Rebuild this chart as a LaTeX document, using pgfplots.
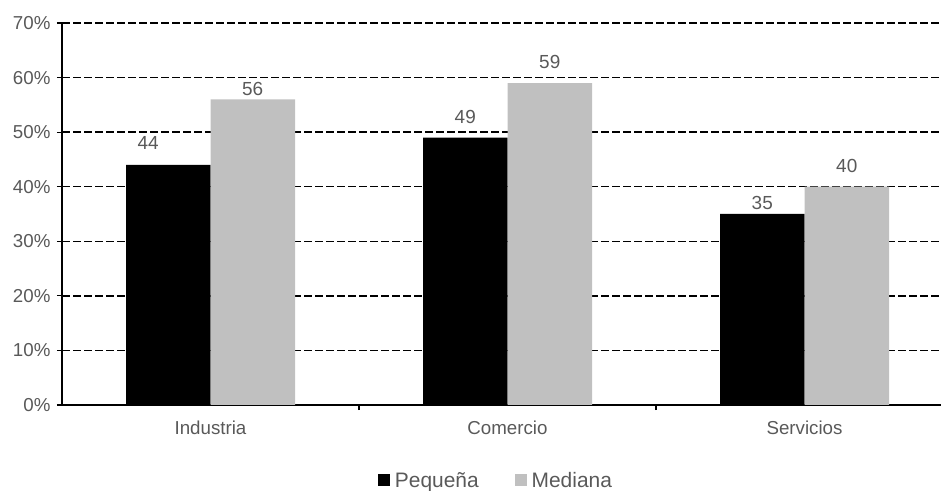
\documentclass[border=0pt]{standalone}
\usepackage{pgfplots}
\usepackage{pgfplotstable}
\pgfplotsset{compat=1.18}
\usepackage{fontspec}
\setmainfont{Liberation Sans}
\definecolor{txt}{HTML}{595959}
\definecolor{barg}{HTML}{C0C0C0}

% x: category index, y: share (%), dx/dy: label offset from the category centre (bp)
\pgfplotstableread{
x y dx dy
0 44 -62.25 22
1 49 -42.25 21
2 35 -42.25 11
}\pequena
\pgfplotstableread{
x y dx dy
0 56 42.25 10
1 59 42.25 21
2 40 42.25 21
}\mediana

\begin{document}
\begin{tikzpicture}[x=1bp,y=1bp]
\begin{axis}[
  at={(62bp,86bp)}, anchor=south west,
  scale only axis, width=891bp, height=382bp,
  xmin=-0.5, xmax=2.5, ymin=0, ymax=70,
  axis x line=bottom, axis y line=left,
  axis line style={-, black, line width=1.4bp},
  every outer x axis line/.append style={-},
  every outer y axis line/.append style={-},
  ytick={0,10,...,70},
  yticklabel={\pgfmathprintnumber{\tick}\%},
  xtick={0.5,1.5}, xticklabels={},
  extra x ticks={0,1,2},
  extra x tick labels={Industria,Comercio,Servicios},
  extra x tick style={major tick length=0pt, grid=none},
  tick align=outside, major tick length=5bp,
  tick style={black, line width=1.2bp},
  ymajorgrids,
  major grid style={black, dash pattern=on 7.5bp off 3.5bp, line width=1.3bp},
  /pgf/number format/assume math mode=true,
  tick label style={font=\fontsize{18.8}{21}\selectfont, text=txt},
  xticklabel style={yshift=-12bp},
  yticklabel style={xshift=-3bp},
  legend columns=2,
  legend style={at={(0.487,-0.197)}, anchor=center, draw=none, fill=none,
    font=\fontsize{21}{23}\selectfont, text=txt,
    /tikz/every even column/.append style={column sep=34bp}},
  clip=false,
]
\addplot[ybar, fill=black, draw=none, bar width=84.5bp, bar shift=-42.25bp,
  legend image code/.code={\fill[black] (-6bp,-5.5bp) rectangle (6bp,6bp); \path (9bp,0bp);},
  nodes near coords,
  visualization depends on={\thisrow{dx}\as\dx},
  visualization depends on={\thisrow{dy}\as\dy},
  every node near coord/.append style={anchor=center, xshift=\dx bp, yshift=\dy bp,
    font=\fontsize{19}{21}\selectfont, text=txt}]
  table[x=x, y=y] {\pequena};
\addlegendentry{Pequeña}
\addplot[ybar, fill=barg, draw=none, bar width=84.5bp, bar shift=42.25bp,
  legend image code/.code={\fill[barg] (-6bp,-5.5bp) rectangle (6bp,6bp); \path (9bp,0bp);},
  nodes near coords,
  visualization depends on={\thisrow{dx}\as\dx},
  visualization depends on={\thisrow{dy}\as\dy},
  every node near coord/.append style={anchor=center, xshift=\dx bp, yshift=\dy bp,
    font=\fontsize{19}{21}\selectfont, text=txt}]
  table[x=x, y=y] {\mediana};
\addlegendentry{Mediana}
\end{axis}
\pgfresetboundingbox
\useasboundingbox (0,0) rectangle (941bp,491bp);
\end{tikzpicture}
\end{document}
